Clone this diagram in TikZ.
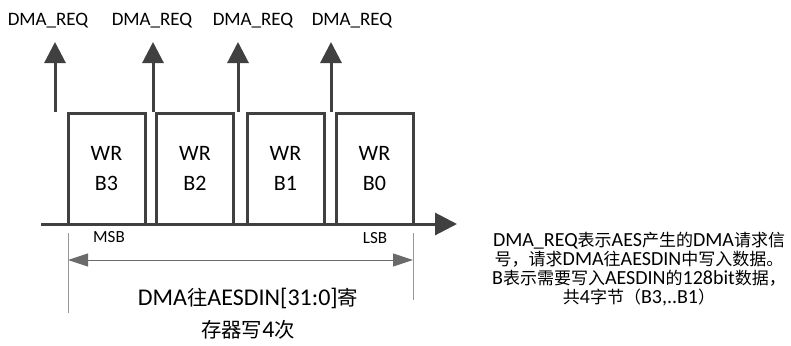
\documentclass[tikz,border=0pt]{standalone}
\usepackage{fontspec}
\setmainfont{Carlito}
\newfontfamily\cjk[Scale=0.85]{Noto Sans CJK SC}
\usetikzlibrary{arrows.meta}
\definecolor{ln}{HTML}{404040}
\definecolor{dim}{HTML}{6A6A6A}
\begin{document}
\begin{tikzpicture}[x=1pt,y=-1pt,
  wbox/.style={draw=ln,line width=3pt,minimum width=77pt,minimum height=111pt,inner sep=0pt,
    align=center,font=\fontsize{22}{30}\selectfont},
  req/.style={font=\fontsize{19}{22}\selectfont,inner sep=0pt},
  reqarrow/.style={draw=ln,line width=3pt,-{Triangle[length=21pt,width=21pt]}},
  axisarrow/.style={draw=ln,line width=3pt,-{Triangle[length=22pt,width=22pt]}},
  dimarrow/.style={draw=dim,line width=1pt,{Triangle[length=20pt,width=13pt]}-{Triangle[length=20pt,width=13pt]}},
  ext/.style={draw=dim!70,line width=0.8pt},
  small/.style={font=\fontsize{17}{20}\selectfont,inner sep=0pt}
]
\useasboundingbox (0,0) rectangle (791,345);
% boxes
\node[wbox] (b3) at (106.5,168.5) {WR\\B3};
\node[wbox] (b2) at (195,168.5) {WR\\B2};
\node[wbox] (b1) at (285.5,168.5) {WR\\B1};
\node[wbox] (b0) at (374.5,168.5) {WR\\B0};
% axis
\coordinate (ax0) at (41,224);
\coordinate (ax1) at (457,224);
\draw[axisarrow] (ax0) -- (ax1);
% request arrows
\foreach \i/\x/\lx in {1/55/48,2/153/152,3/238/253,4/331/352}{
  \coordinate (r\i) at (\x,112);
  \coordinate (t\i) at (\x,42);
  \node[req] (l\i) at (\lx,21) {DMA\_REQ};
  \draw[reqarrow] (r\i) -- (t\i);
}
% MSB / LSB
\node[small] (msb) at (109,237) {MSB};
\node[small] (lsb) at (375,238) {LSB};
% dimension
\coordinate (e0a) at (68,233);
\coordinate (e0b) at (68,313);
\coordinate (e1a) at (413,233);
\coordinate (e1b) at (413,300);
\draw[ext] (e0a) -- (e0b);
\draw[ext] (e1a) -- (e1b);
\coordinate (d0) at (68,260);
\coordinate (d1) at (413,260);
\draw[dimarrow] (d0) -- (d1);
\node[align=center,font=\fontsize{24}{32}\selectfont,inner sep=0pt] (big) at (248,314)
  {DMA{\cjk 往}AESDIN[31:0]{\cjk 寄}\\{\cjk 存器写}4{\cjk 次}};
% note
\node[align=center,font=\fontsize{20}{19}\selectfont,inner sep=0pt] (note) at (639,269)
  {DMA\_REQ{\cjk 表示}AES{\cjk 产生的}DMA{\cjk 请求信}\\
   {\cjk 号，请求}DMA{\cjk 往}AESDIN{\cjk 中写入数据。}\\
   B{\cjk 表示需要写入}AESDIN{\cjk 的}128bit{\cjk 数据，}\\
   {\cjk 共}4{\cjk 字节（}B3,..B1{\cjk ）}};
\end{tikzpicture}
\end{document}
